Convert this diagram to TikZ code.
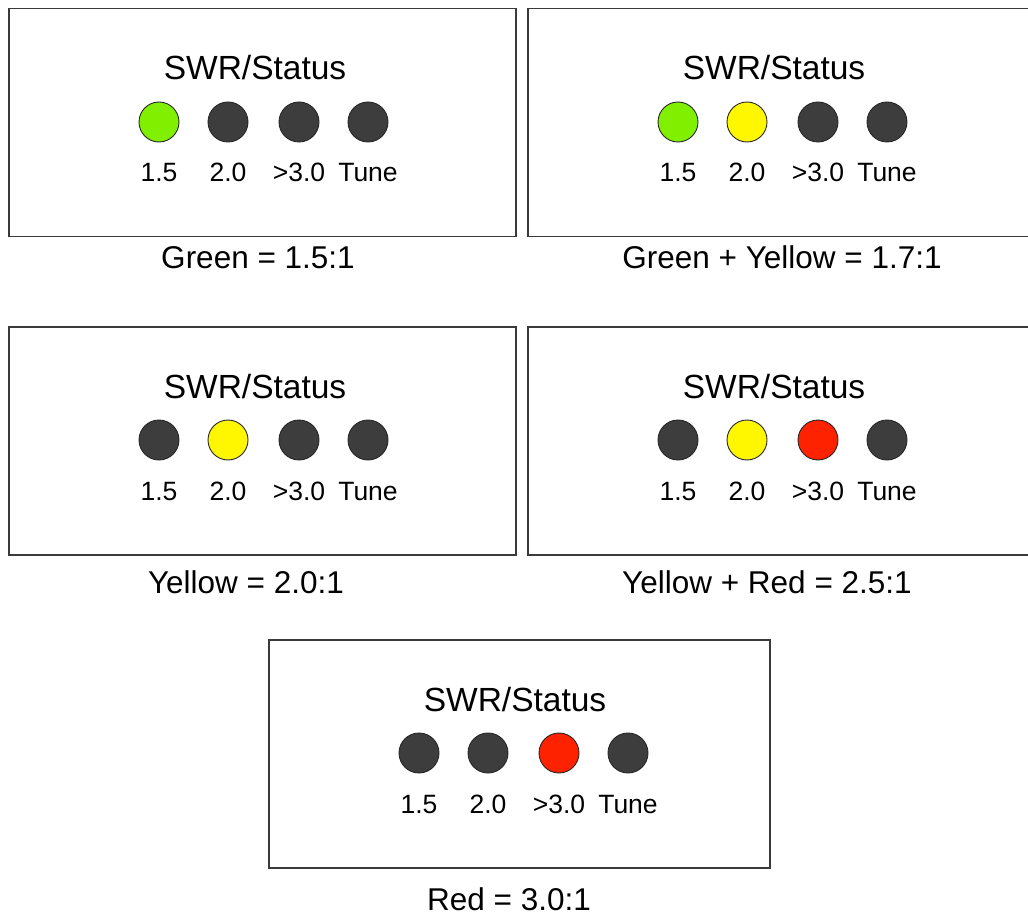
\documentclass[tikz,border=0pt]{standalone}
\usepackage{fontspec}
\setmainfont{Liberation Sans}
\definecolor{ledgreen}{HTML}{80F000}
\definecolor{ledyellow}{HTML}{FFF700}
\definecolor{ledred}{HTML}{FF2200}
\definecolor{leddark}{HTML}{3D3D3D}
\definecolor{boxgray}{HTML}{3A3A3A}
\tikzset{
  boxline/.style={draw=boxgray, line width=1.5pt, fill=none, inner sep=0pt, anchor=north west},
  led/.style={circle, draw=black!85, line width=0.9pt, minimum size=40pt, inner sep=0pt},
  ttl/.style={anchor=base, inner sep=0pt, font=\fontsize{33.5}{40}\selectfont},
  lbl/.style={anchor=base, inner sep=0pt, font=\fontsize{26.5}{31}\selectfont},
  captxt/.style={anchor=base, inner sep=0pt, font=\fontsize{31.5}{37}\selectfont},
}
% #1 name, #2 left x, #3 top y, #4 box width, #5..#8 LED colours
\newcommand\swrpanel[8]{%
  \node[boxline, minimum width=#4pt, minimum height=228pt] (#1box) at (#2,#3) {};
  \node[ttl] (#1title) at (#2+247,#3+72) {SWR/Status};
  \node[led, fill=#5] (#1a) at (#2+151,#3+114) {};
  \node[led, fill=#6] (#1b) at (#2+220,#3+114) {};
  \node[led, fill=#7] (#1c) at (#2+291,#3+114) {};
  \node[led, fill=#8] (#1d) at (#2+360,#3+114) {};
  \node[lbl] (#1la) at (#2+151,#3+174) {1.5};
  \node[lbl] (#1lb) at (#2+220,#3+174) {2.0};
  \node[lbl] (#1lc) at (#2+291,#3+174) {>3.0};
  \node[lbl] (#1ld) at (#2+360,#3+174) {Tune};
}
\begin{document}
\begin{tikzpicture}[x=1pt,y=-1pt]
\useasboundingbox[fill=white] (0,0) rectangle (1028,917);
\swrpanel{p1}{8}{8}{507}{ledgreen}{leddark}{leddark}{leddark}
\swrpanel{p2}{527}{8}{520}{ledgreen}{ledyellow}{leddark}{leddark}
\swrpanel{p3}{8}{326}{507}{leddark}{ledyellow}{leddark}{leddark}
\swrpanel{p4}{527}{326}{520}{leddark}{ledyellow}{ledred}{leddark}
\swrpanel{p5}{268}{639}{501}{leddark}{leddark}{ledred}{leddark}
\node[captxt] (c1) at (258,269) {Green = 1.5:1};
\node[captxt] (c2) at (782,269) {Green + Yellow = 1.7:1};
\node[captxt] (c3) at (246,593) {Yellow = 2.0:1};
\node[captxt] (c4) at (767,593) {Yellow + Red = 2.5:1};
\node[captxt] (c5) at (509,910) {Red = 3.0:1};
\end{tikzpicture}
\end{document}
